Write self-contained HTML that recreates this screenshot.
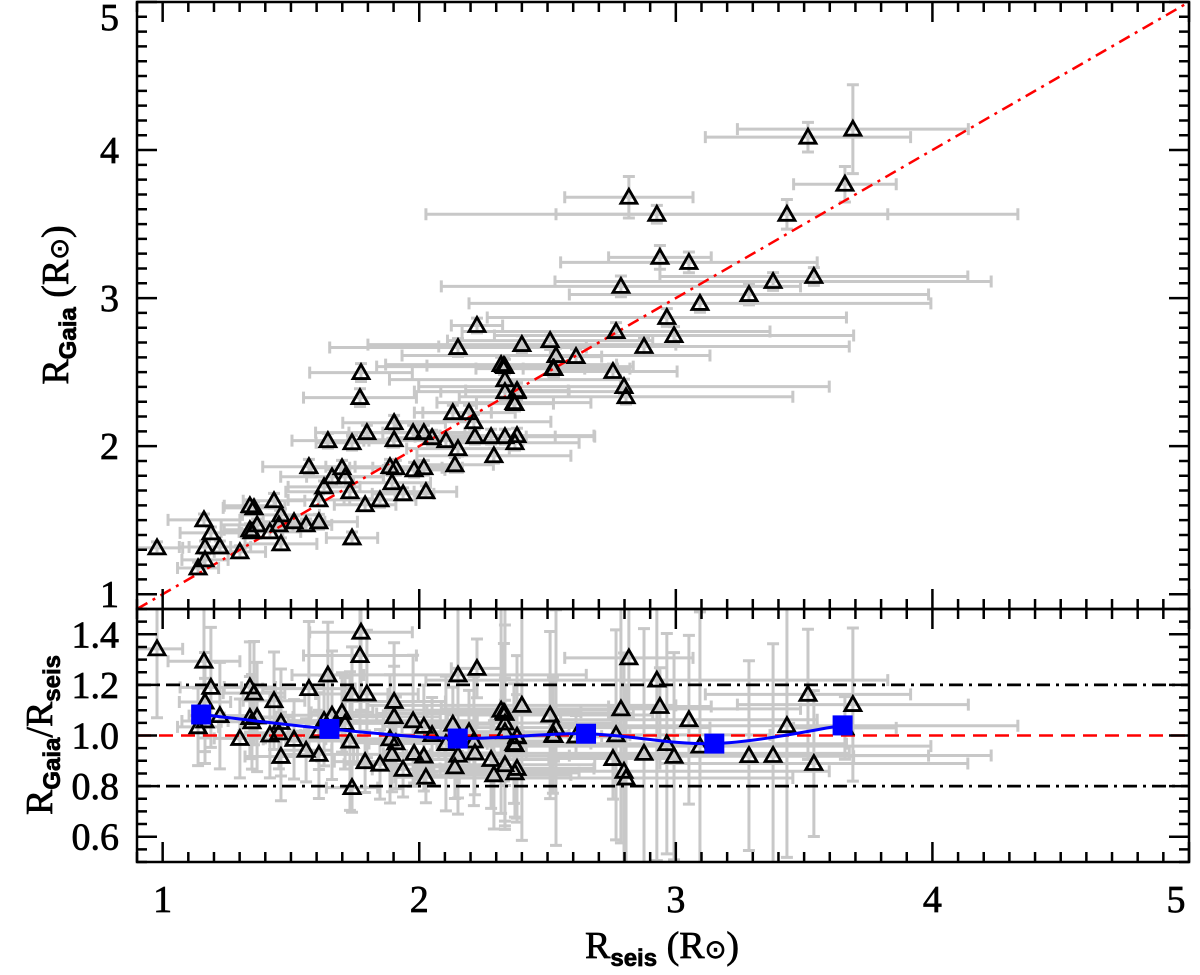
<!DOCTYPE html>
<html><head><meta charset="utf-8">
<style>
html,body{margin:0;padding:0;background:#fff;}
svg{display:block;}
text{font-family:"Liberation Serif",serif;fill:#000;stroke:#000;stroke-width:0.7;}
</style></head>
<body>
<svg id="chart" width="1200" height="975" viewBox="0 0 1200 975" xmlns="http://www.w3.org/2000/svg">
<defs>
<clipPath id="clipTop"><rect x="137" y="2" width="1052" height="607"/></clipPath>
<clipPath id="clipBot"><rect x="137" y="609" width="1052" height="253"/></clipPath>
</defs>
<g id="topErr" clip-path="url(#clipTop)"></g>
<g id="botErr" clip-path="url(#clipBot)"></g>
<g id="refLines"></g>
<g id="topPts" clip-path="url(#clipTop)"></g>
<g id="botPts" clip-path="url(#clipBot)"></g>
<g id="binned"></g>
<g id="axes"></g>
<text transform="translate(68,305) rotate(-90)" text-anchor="middle" font-size="38">R<tspan font-size="24" font-weight="bold" dy="8" font-family="Liberation Sans, sans-serif">Gaia</tspan><tspan dy="-8">  (R</tspan><tspan font-size="26">⊙</tspan>)</text>
<text transform="translate(52,735) rotate(-90)" text-anchor="middle" font-size="38">R<tspan font-size="24" font-weight="bold" dy="8" font-family="Liberation Sans, sans-serif">Gaia</tspan><tspan dy="-8">/R</tspan><tspan font-size="24" font-weight="bold" dy="8" font-family="Liberation Sans, sans-serif">seis</tspan></text>
<text x="662" y="958" text-anchor="middle" font-size="38">R<tspan font-size="24" font-weight="bold" dy="8" font-family="Liberation Sans, sans-serif">seis</tspan><tspan dy="-8">  (R</tspan><tspan font-size="26">⊙</tspan>)</text>
</svg>
<script>
const rSeis = [0.978,1.161,1.188,1.165,1.223,1.165,1.138,1.301,1.340,1.356,1.368,1.340,1.348,1.434,1.461,1.453,1.418,1.461,1.512,1.559,1.609,1.609,1.570,1.629,1.660,1.699,1.711,1.730,1.738,1.789,1.847,1.894,1.886,1.909,1.937,1.980,2.018,2.026,1.644,1.738,1.796,1.902,1.902,1.976,2.018,2.050,2.104,2.151,2.139,2.131,2.194,2.213,2.217,2.280,2.291,2.334,2.381,2.373,2.369,2.381,2.334,2.334,2.330,2.525,1.773,1.769,
3.515,3.690,3.659,3.433,2.817,2.926,2.938,3.051,2.786,3.379,3.538,3.285,3.094,2.965,2.993,2.767,2.876,2.755,2.798,2.806,2.225,2.151,2.400,2.510,2.533,2.611,2.521,2.319,2.334,2.381,2.373];
const rGaia = [1.313,1.502,1.414,1.319,1.319,1.232,1.177,1.286,1.597,1.583,1.468,1.435,1.421,1.631,1.536,1.468,1.421,1.340,1.489,1.468,1.489,1.637,1.861,1.725,1.793,1.854,1.793,1.692,1.380,1.604,1.637,1.753,1.861,1.854,1.678,1.840,1.854,1.692,2.037,2.023,2.091,2.158,2.043,2.091,2.091,2.057,2.037,1.983,1.874,2.226,2.226,2.165,2.064,2.064,1.935,2.064,2.071,2.023,2.294,2.368,2.368,2.449,2.544,2.524,2.497,2.328,
4.087,4.141,3.769,3.566,3.681,3.566,3.275,3.241,3.079,3.112,3.146,3.024,2.964,2.869,2.747,2.774,2.673,2.504,2.402,2.334,2.815,2.666,2.686,2.713,2.612,2.605,2.524,2.551,2.537,2.375,2.287];
const rSeisErr = [0.10,0.14,0.12,0.10,0.12,0.09,0.08,0.10,0.10,0.12,0.14,0.10,0.12,0.12,0.15,0.10,0.12,0.14,0.12,0.10,0.15,0.12,0.18,0.14,0.20,0.12,0.15,0.25,0.10,0.12,0.14,0.15,0.25,0.18,0.12,0.12,0.15,0.12,0.14,0.14,0.20,0.20,0.18,0.25,0.16,0.15,0.30,0.20,0.15,0.15,0.18,0.30,0.20,0.25,0.30,0.35,0.30,0.25,0.30,0.40,0.25,0.45,0.30,0.12,0.20,0.22,
0.40,0.45,0.20,0.90,0.25,0.90,0.20,0.50,0.70,0.85,0.60,0.70,0.90,0.70,0.70,0.60,0.80,0.25,0.80,0.65,0.10,0.50,0.60,0.40,0.60,0.10,0.30,0.45,0.50,0.20,0.15];
const rGaiaErr = [0.04,0.04,0.04,0.04,0.04,0.04,0.04,0.04,0.04,0.04,0.04,0.04,0.04,0.05,0.04,0.04,0.04,0.04,0.04,0.04,0.05,0.04,0.05,0.04,0.05,0.05,0.04,0.05,0.04,0.04,0.05,0.05,0.05,0.05,0.04,0.05,0.05,0.04,0.05,0.05,0.05,0.05,0.05,0.05,0.05,0.05,0.05,0.05,0.05,0.05,0.05,0.05,0.05,0.05,0.05,0.05,0.05,0.05,0.05,0.06,0.06,0.06,0.06,0.06,0.06,0.06,
0.10,0.30,0.12,0.10,0.14,0.06,0.08,0.07,0.07,0.06,0.06,0.07,0.06,0.06,0.06,0.06,0.06,0.05,0.05,0.05,0.05,0.06,0.06,0.06,0.05,0.05,0.05,0.05,0.05,0.05,0.05];
const binX = [1.15,1.65,2.15,2.65,3.15,3.65];
const binRatio = [1.083,1.026,0.988,1.007,0.968,1.040];
const xTicks = [1,2,3,4,5];
const yTopTicks = [1,2,3,4,5];
const yBotTicks = [0.6,0.8,1.0,1.2,1.4];
const yBotTickLabels = ["0.6","0.8","1.0","1.2","1.4"];

const NS="http://www.w3.org/2000/svg";
const L=137,R=1189,T=2,M=609,B=862;
const X0=0.9,X1=5,YT0=0.9,YT1=5,YB0=0.5,YB1=1.5;
const sx=v=>L+(v-X0)/(X1-X0)*(R-L);
const syT=v=>M-(v-YT0)/(YT1-YT0)*(M-T);
const syB=v=>B-(v-YB0)/(YB1-YB0)*(B-M);
function mk(tag,attrs,parent){const e=document.createElementNS(NS,tag);for(const k in attrs)e.setAttribute(k,attrs[k]);parent.appendChild(e);return e;}
const G=id=>document.getElementById(id);
const grey="#c8c8c8";

function errBars(g,x,y,x0,x1,y0,y1){
  const p=mk('path',{d:`M${x0},${y}H${x1}M${x0},${y-6}V${y+6}M${x1},${y-6}V${y+6}M${x},${y0}V${y1}M${x-6},${y0}H${x+6}M${x-6},${y1}H${x+6}`,stroke:grey,'stroke-width':3,fill:'none'},g);
  
  
}
function tri(g,x,y){
  const s=8;
  const p=mk('path',{d:`M${x},${y-s}L${x+s},${y+s*0.75}L${x-s},${y+s*0.75}Z`,stroke:'#000','stroke-width':2.8,fill:'none','stroke-linejoin':'miter'},g);
  
  
}
for(let i=0;i<rSeis.length;i++){
  const x=rSeis[i],y=rGaia[i],xe=rSeisErr[i],ye=rGaiaErr[i];
  errBars(G('topErr'),sx(x),syT(y),sx(x-xe),sx(x+xe),syT(y-ye),syT(y+ye));
  const r=y/x, re=1.9*r*Math.sqrt((xe/x)**2+(ye/y)**2);
  errBars(G('botErr'),sx(x),syB(r),sx(x-xe),sx(x+xe),syB(r-re),syB(r+re));
}
for(let i=0;i<rSeis.length;i++){
  tri(G('topPts'),sx(rSeis[i]),syT(rGaia[i]));
  tri(G('botPts'),sx(rSeis[i]),syB(rGaia[i]/rSeis[i]));
}
let e;
e=mk('line',{x1:sx(X0),y1:syT(X0),x2:sx(X1),y2:syT(X1),stroke:'#f00','stroke-width':2.5,'stroke-dasharray':'12,6,3,6'},G('refLines'));


e=mk('line',{x1:L,y1:syB(1),x2:R,y2:syB(1),stroke:'#f00','stroke-width':2.5,'stroke-dasharray':'14,8'},G('refLines'));


[1.2,0.8].forEach(v=>{
  const l=mk('line',{x1:L,y1:syB(v),x2:R,y2:syB(v),stroke:'#000','stroke-width':2.8,'stroke-dasharray':'14,6,3,6'},G('refLines'));
  
  
});
const bp=binX.map((x,i)=>[sx(x),syB(binRatio[i])]);
let d=`M${bp[0][0]},${bp[0][1]}`;
for(let i=0;i<bp.length-1;i++){
  const p0=bp[Math.max(0,i-1)],p1=bp[i],p2=bp[i+1],p3=bp[Math.min(bp.length-1,i+2)];
  const t=1/6;
  d+=`C${p1[0]+(p2[0]-p0[0])*t},${p1[1]+(p2[1]-p0[1])*t} ${p2[0]-(p3[0]-p1[0])*t},${p2[1]-(p3[1]-p1[1])*t} ${p2[0]},${p2[1]}`;
}
e=mk('path',{d:d,stroke:'#0000ff','stroke-width':3,fill:'none'},G('binned'));


bp.forEach(p=>{
  const r=mk('rect',{x:p[0]-10,y:p[1]-10,width:20,height:20,fill:'#0000ff'},G('binned'));
  
  
});
const ax=G('axes');
[[L,T,R,M],[L,M,R,B]].forEach(b=>{
  const r=mk('rect',{x:b[0],y:b[1],width:b[2]-b[0],height:b[3]-b[1],fill:'none',stroke:'#000','stroke-width':2.5},ax);
  
  
});
let td='';
for(let k=9;k<=50;k++){
  const v=k/10, x=sx(v), major=(k%10===0), len=major?20:10;
  td+=`M${x},${T}v${len}M${x},${M}v${-len}M${x},${M}v${len}M${x},${B}v${-len}`;
}
for(let k=9;k<=50;k++){
  const y=syT(k/10), len=(k%10===0)?20:10;
  td+=`M${L},${y}h${len}M${R},${y}h${-len}`;
}
for(let k=10;k<=30;k++){
  const v=k*0.05, y=syB(v), len=(k%4===0)?20:10;
  td+=`M${L},${y}h${len}M${R},${y}h${-len}`;
}
e=mk('path',{d:td,stroke:'#000','stroke-width':2.5,fill:'none'},ax);


xTicks.forEach(v=>{
  const t=mk('text',{x:Math.min(sx(v),1176),y:912,'text-anchor':'middle','font-size':38},ax);
  t.textContent=String(v);
  
  
});
yTopTicks.forEach(v=>{
  const t=mk('text',{x:119,y:Math.min(Math.max(syT(v)+13,30),607),'text-anchor':'end','font-size':38},ax);
  t.textContent=String(v);
  
  
});
yBotTicks.forEach((v,i)=>{
  const t=mk('text',{x:119,y:syB(v)+13,'text-anchor':'end','font-size':38},ax);
  t.textContent=yBotTickLabels[i];
  
  
});
</script>
</body></html>
